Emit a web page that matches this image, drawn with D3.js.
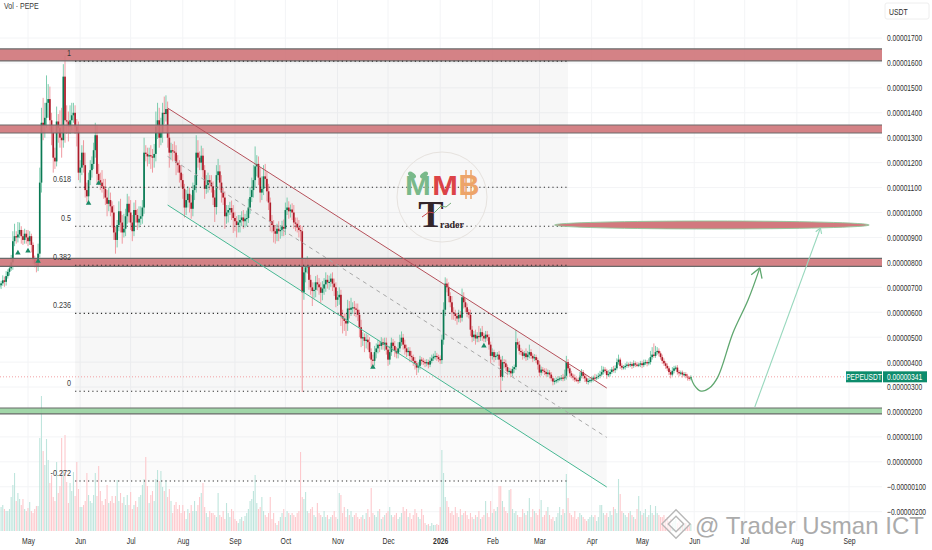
<!DOCTYPE html>
<html>
<head>
<meta charset="utf-8">
<script src="https://cdn.jsdelivr.net/npm/d3@7"></script>
<style>
html, body { margin: 0; padding: 0; background: #fff; }
svg { display: block; }
text { font-family: "Liberation Sans", sans-serif; }
</style>
</head>
<body>
<svg id="chart" width="932" height="550"></svg>
<script>
// prices are in units of 0.00000001 USDT, one daily candle per entry from 14 Apr 2025
const firstDay = "2025-04-14";
const firstOpen = 700;
const closes = [
  708,716,728,722,745,762,776,800,885,905,
  900,912,930,905,890,915,900,885,905,870,
  812,795,785,835,1120,1360,1350,1380,1440,1455,
  1370,1320,1220,1205,1365,1340,1300,1290,1545,1370,
  1365,1345,1370,1390,1400,1345,1325,1160,1180,1240,
  1190,1090,1065,1130,1170,1195,1250,1310,1155,1130,
  1120,1105,1095,1060,1035,1050,1025,1000,920,890,
  950,1005,960,920,935,985,1035,1000,960,925,
  1010,990,960,975,985,1020,1240,1235,1225,1230,
  1225,1220,1235,1345,1370,1300,1320,1400,1395,1415,
  1300,1240,1250,1245,1240,1200,1190,1160,1130,1095,
  1020,1050,1075,1040,1015,1090,1110,1240,1220,1200,
  1228,1170,1095,1110,1130,1120,1105,1060,1022,1150,
  1165,1120,1080,1060,985,1000,1010,1018,1000,978,
  965,950,960,970,980,965,975,978,1020,1062,
  1090,1130,1185,1195,1140,1080,1095,1145,1135,1085,
  1040,965,950,925,915,935,925,930,942,935,
  1010,1020,1005,1012,1000,960,955,940,930,925,
  680,760,780,785,730,700,685,690,720,712,
  700,678,695,712,730,720,722,735,715,700,
  650,660,670,585,575,565,555,615,610,618,
  620,615,610,590,540,495,500,485,490,480,
  440,410,405,440,455,470,465,480,470,478,
  450,410,440,478,465,445,435,455,480,498,
  470,455,440,445,425,420,405,395,378,385,
  410,405,400,395,400,390,405,415,422,425,
  420,412,408,490,610,715,700,665,640,600,
  595,585,575,590,578,660,640,620,600,590,
  530,500,510,495,505,500,520,505,495,510,
  500,470,425,440,420,425,430,410,340,400,
  395,380,362,365,355,372,380,480,470,445,
  440,425,435,420,430,440,425,415,420,408,
  390,358,370,365,360,352,358,350,335,322,
  325,328,332,335,338,335,345,400,375,355,
  345,338,330,328,325,345,360,345,335,322,
  325,328,330,338,335,340,345,350,360,370,
  365,348,352,360,370,368,375,400,410,385,
  378,380,385,390,388,392,385,395,390,388,
  390,395,388,398,400,395,400,420,430,425,
  440,445,435,420,405,395,385,375,360,350,
  365,375,378,360,355,358,350,352,345,338,
  335,341
];
const upperWicks = [
  15,10,20,15,20,10,15,30,40,50,
  20,50,30,15,25,20,15,30,20,10,
  10,15,20,40,60,60,100,60,110,60,
  50,30,30,40,60,30,70,120,50,85,
  60,40,60,50,40,30,30,40,30,30,
  50,50,30,30,40,30,30,50,40,40,
  30,50,30,40,30,50,30,20,30,25,
  20,40,50,30,60,30,40,30,50,30,
  30,40,25,50,40,30,60,30,25,30,
  40,30,40,60,70,50,60,40,65,55,
  30,20,30,25,40,30,30,20,30,25,
  20,40,30,25,30,30,40,70,50,25,
  40,30,20,40,30,20,30,20,30,40,
  50,25,30,20,25,30,20,25,30,30,
  25,20,30,20,25,30,20,30,35,40,
  50,60,80,35,30,40,50,45,50,30,
  30,20,25,20,25,20,30,20,25,30,
  30,40,25,20,25,30,20,25,30,20,
  20,40,35,40,25,20,20,30,25,30,
  25,20,30,25,30,20,25,20,25,20,
  20,25,30,20,25,20,30,35,30,40,
  20,25,20,25,20,30,20,15,25,20,
  20,15,20,25,20,20,15,20,15,20,
  20,15,25,20,15,20,15,25,30,25,
  15,20,15,15,15,20,10,15,10,15,
  15,10,12,10,12,10,15,15,12,20,
  12,10,15,20,30,25,20,20,15,25,
  20,15,12,20,15,35,20,15,15,12,
  20,15,15,20,15,40,15,25,12,15,
  15,12,12,15,10,15,10,15,12,25,
  12,15,10,12,10,12,10,50,15,15,
  12,10,10,20,15,30,12,10,12,10,
  10,15,12,10,10,15,12,10,10,8,
  10,10,12,8,10,15,25,25,12,10,
  10,8,12,8,10,15,12,8,10,8,
  10,8,12,8,15,10,12,15,25,12,
  10,8,15,12,10,15,12,15,20,8,
  10,8,10,12,8,10,8,12,8,10,
  8,10,10,12,10,8,15,25,30,45,
  25,15,10,8,10,10,8,10,8,8,
  15,10,8,10,8,8,8,8,8,8,
  6,6
];
const lowerWicks = [
  10,15,10,20,15,10,15,10,30,20,
  25,20,15,30,20,15,25,20,15,30,
  20,15,25,20,15,40,60,50,40,60,
  40,50,60,30,20,60,40,70,30,90,
  50,60,30,40,30,30,60,30,40,30,
  30,30,25,30,20,30,20,30,40,20,
  30,25,40,30,50,30,40,60,30,55,
  30,25,40,45,20,30,30,40,30,40,
  20,30,30,20,25,30,25,30,40,30,
  50,60,40,30,50,40,30,40,40,30,
  40,60,30,40,30,50,30,40,30,40,
  40,30,30,40,40,30,40,30,40,30,
  30,30,40,20,30,30,25,30,60,30,
  20,30,40,30,50,30,40,20,30,60,
  40,50,30,40,25,30,25,30,20,25,
  20,30,30,40,30,40,30,25,30,40,
  30,40,30,45,40,30,40,30,25,30,
  25,20,30,25,30,25,30,20,30,40,
  400,30,40,25,40,30,60,30,30,25,
  30,40,30,25,30,25,30,20,30,35,
  30,25,30,40,60,40,50,30,35,25,
  25,30,30,25,40,35,30,45,30,30,
  25,30,30,20,25,20,25,15,20,25,
  20,25,20,15,20,25,20,20,15,15,
  20,25,20,15,25,20,20,25,30,20,
  15,15,12,15,12,15,10,10,10,12,
  15,12,15,15,20,25,20,25,20,30,
  25,20,25,15,20,15,25,20,20,15,
  25,20,15,25,15,20,15,20,15,15,
  15,20,30,15,20,12,15,25,60,15,
  20,15,15,12,15,12,15,12,15,15,
  12,15,10,15,12,15,12,15,10,12,
  20,15,12,10,12,10,12,15,12,15,
  12,10,10,8,10,12,10,15,12,15,
  10,12,10,8,12,8,10,12,15,10,
  12,8,10,8,10,8,8,10,8,10,
  10,15,8,10,8,10,12,8,10,12,
  10,8,10,8,10,8,12,8,10,8,
  8,10,12,8,10,12,8,10,10,8,
  8,10,12,10,12,10,12,10,12,15,
  8,10,8,10,12,8,12,8,10,12,
  10,8
];
const volumes = [
  33,24,26,22,20,20,22,34,46,58,
  30,38,32,26,32,22,20,23,29,20,
  18,22,25,25,93,135,80,66,92,71,
  48,56,34,30,69,38,45,93,60,96,
  49,28,48,40,59,35,69,42,24,24,
  26,30,58,36,30,28,36,58,35,65,
  40,30,26,32,46,28,30,35,28,35,
  51,30,38,28,34,26,36,26,39,22,
  26,30,24,34,36,46,52,74,45,28,
  36,40,30,52,61,50,60,44,40,51,
  34,42,30,18,26,29,22,26,18,26,
  20,12,22,18,26,20,30,20,26,34,
  38,48,24,18,14,20,18,18,16,14,
  38,16,14,20,12,28,18,14,22,20,
  12,10,8,12,14,10,15,18,22,30,
  32,40,56,28,22,24,34,20,16,14,
  18,34,12,18,8,6,10,14,18,22,
  14,20,18,16,18,16,14,18,20,79,
  34,32,39,20,18,22,24,16,14,28,
  18,16,14,20,14,16,12,14,16,20,
  14,12,38,36,18,24,14,22,16,20,
  14,16,18,14,12,14,16,12,18,22,
  14,43,18,16,14,20,22,12,14,16,
  18,20,24,16,14,16,18,12,14,18,
  24,20,22,14,18,12,16,22,18,14,
  12,22,16,8,6,7,5,8,6,6,
  7,6,24,81,58,34,30,24,18,20,
  16,24,18,14,22,16,18,20,16,12,
  18,14,12,16,14,20,12,14,16,30,
  18,14,30,18,22,20,24,45,45,30,
  24,20,18,41,42,22,18,20,16,14,
  14,22,18,16,20,33,14,22,20,18,
  16,22,31,14,16,20,24,16,12,14,
  10,14,18,24,16,22,18,57,33,18,
  16,14,20,12,14,18,16,14,12,10,
  12,14,16,14,16,10,14,26,26,18,
  16,18,14,20,16,24,22,18,52,37,
  20,18,16,14,18,20,16,14,12,22,
  35,20,16,18,22,14,16,26,18,16,
  25,18,16,14,14,16,12,14,10,12,
  8,10,12,8,10,7,9,6,8,6,
  5,7
];

const priceTicks = [1700,1600,1500,1400,1300,1200,1100,1000,900,800,700,600,500,400,300,200,100,0,-100,-200];
const monthTicks = ["2025-05-01","2025-06-01","2025-07-01","2025-08-01","2025-09-01","2025-10-01","2025-11-01","2025-12-01","2026-01-01","2026-02-01","2026-03-01","2026-04-01","2026-05-01","2026-06-01","2026-07-01","2026-08-01","2026-09-01"];
const monthLabels = ["May","Jun","Jul","Aug","Sep","Oct","Nov","Dec","2026","Feb","Mar","Apr","May","Jun","Jul","Aug","Sep"];

const fibLevels = [1, 0.618, 0.5, 0.382, 0.236, 0, -0.272];
const fibLabels = ["1", "0.618", "0.5", "0.382", "0.236", "0", "-0.272"];
const fibDates = ["2025-05-29", "2026-03-18"];
const fibPrices = [283, 1607];

const redBands = [[1608,1656],[1319,1351],[784,816]];
const greenBands = [[192,216]];

const channelDates = ["2025-07-23", "2026-04-10"];
const channelTop = [1419, 296];
const channelMid = [1225, 98];
const channelBottom = [1030, -101];

const targetDates = ["2026-03-10", "2026-09-13"];
const targetPrice = 950;

const pathDates = ["2026-05-30","2026-06-01","2026-06-05","2026-06-10","2026-06-15","2026-06-24","2026-07-03","2026-07-10"];
const pathPrices = [340,308,284,296,340,517,649,778];
const arrowDates = ["2026-07-07","2026-08-15"];
const arrowPrices = [220,938];

const triangleDates = ["2025-04-25","2025-05-01","2025-05-07","2025-06-06","2025-06-12","2025-11-22","2026-01-27"];
const trianglePrices = [838,846,805,1038,1118,380,465];

const lastPrice = 341;

const paneRight = 882;
const baseline = 531;
const parseDay = d3.utcParse("%Y-%m-%d");
const svg = d3.select("#chart");

const xScale = d3.scaleUtc()
  .domain([parseDay("2025-05-01"), parseDay("2026-09-01")])
  .range([28, 849]);
const yScale = d3.scaleLinear().domain([-200, 1700]).range([511.7, 38]);
const volScale = d3.scaleLinear().domain([0, 140]).range([baseline, baseline - 140]);
const xDay = s => xScale(parseDay(s));

// chart labels are set in a condensed face, squeeze the glyphs to that width
function squeeze(sel, k) {
  sel.each(function() {
    this.setAttribute("textLength", this.getComputedTextLength() * k);
    this.setAttribute("lengthAdjust", "spacingAndGlyphs");
  });
}

const candles = closes.map((c, i) => {
  const o = i ? closes[i - 1] : firstOpen;
  return {
    date: d3.utcDay.offset(parseDay(firstDay), i),
    open: o,
    close: c,
    high: Math.max(o, c) + upperWicks[i],
    low: Math.min(o, c) - lowerWicks[i],
    volume: volumes[i]
  };
});

// clip everything in the main pane at the price scale
svg.append("clipPath").attr("id", "pane").append("rect")
  .attr("x", 0).attr("y", 0).attr("width", paneRight).attr("height", 531);
const pane = svg.append("g").attr("clip-path", "url(#pane)");

// grid
pane.append("g").selectAll("line").data(priceTicks).join("line")
  .attr("x1", 0).attr("x2", paneRight)
  .attr("y1", d => yScale(d)).attr("y2", d => yScale(d))
  .attr("stroke", "#f3f4f6");
pane.append("g").selectAll("line").data(monthTicks).join("line")
  .attr("x1", d => xDay(d)).attr("x2", d => xDay(d))
  .attr("y1", 0).attr("y2", baseline)
  .attr("stroke", "#f3f4f6");

// fib background
const fibY = lvl => yScale(fibPrices[0] + lvl * (fibPrices[1] - fibPrices[0]));
pane.append("rect")
  .attr("x", xDay(fibDates[0])).attr("width", xDay(fibDates[1]) - xDay(fibDates[0]))
  .attr("y", fibY(1)).attr("height", fibY(0) - fibY(1))
  .attr("fill", "#000").attr("opacity", 0.032);
pane.append("rect")
  .attr("x", xDay(fibDates[0])).attr("width", xDay(fibDates[1]) - xDay(fibDates[0]))
  .attr("y", fibY(0)).attr("height", fibY(-0.272) - fibY(0))
  .attr("fill", "#000").attr("opacity", 0.014);

// channel fill
const channelX = channelDates.map(xDay);
pane.append("path")
  .attr("d", d3.line()([
    [channelX[0], yScale(channelTop[0])], [channelX[1], yScale(channelTop[1])],
    [channelX[1], yScale(channelBottom[1])], [channelX[0], yScale(channelBottom[0])]
  ]) + "Z")
  .attr("fill", "#000").attr("opacity", 0.028);

// volume
pane.append("g").selectAll("rect").data(candles).join("rect")
  .attr("x", d => xScale(d.date) - 0.55)
  .attr("width", 1.1)
  .attr("y", d => volScale(d.volume))
  .attr("height", d => baseline - volScale(d.volume))
  .attr("fill", d => d.close >= d.open ? "#bfe5dd" : "#fdc9cd");

// candles
const candleG = pane.append("g");
candleG.selectAll("line").data(candles).join("line")
  .attr("x1", d => xScale(d.date)).attr("x2", d => xScale(d.date))
  .attr("y1", d => yScale(d.high)).attr("y2", d => yScale(d.low))
  .attr("stroke", d => d.close >= d.open ? "#6fc7a6" : "#ee8f96")
  .attr("stroke-width", 0.9);
candleG.selectAll("rect").data(candles).join("rect")
  .attr("x", d => xScale(d.date) - 0.85)
  .attr("width", 1.7)
  .attr("y", d => yScale(Math.max(d.open, d.close)))
  .attr("height", d => Math.max(1.2, Math.abs(yScale(d.open) - yScale(d.close))))
  .attr("fill", d => d.close >= d.open ? "#0a7a54" : "#ad1c2a");

// last price line
pane.append("line")
  .attr("x1", 0).attr("x2", 846)
  .attr("y1", yScale(lastPrice)).attr("y2", yScale(lastPrice))
  .attr("stroke", "#f2a0a4").attr("stroke-dasharray", "1,2");

// horizontal zones
function drawBands(bands, fill) {
  bands.forEach(b => {
    pane.append("rect")
      .attr("x", 0).attr("width", paneRight)
      .attr("y", yScale(b[1])).attr("height", yScale(b[0]) - yScale(b[1]))
      .attr("fill", fill).attr("fill-opacity", 0.9);
    b.forEach(p => {
      pane.append("line")
        .attr("x1", 0).attr("x2", paneRight)
        .attr("y1", yScale(p)).attr("y2", yScale(p))
        .attr("stroke", "#6a6a6a").attr("stroke-width", 1.2);
    });
  });
}
drawBands(redBands, "#cf7479");
drawBands(greenBands, "#97d29e");

// fib lines and labels
svg.append("g").selectAll("line").data(fibLevels).join("line")
  .attr("x1", xDay(fibDates[0])).attr("x2", xDay(fibDates[1]))
  .attr("y1", d => fibY(d)).attr("y2", d => fibY(d))
  .attr("stroke", "#2b2b2b").attr("stroke-width", 1.1)
  .attr("stroke-dasharray", "1.2,3.1");
svg.append("g").selectAll("text").data(fibLevels).join("text")
  .attr("x", 71).attr("y", d => fibY(d) - 5.5)
  .attr("text-anchor", "end")
  .attr("font-size", 9.5).attr("fill", "#3a3a3a")
  .text((d, i) => fibLabels[i])
  .call(squeeze, 0.76);

// channel lines
function channelLine(prices, color, dash) {
  svg.append("line")
    .attr("x1", channelX[0]).attr("x2", channelX[1])
    .attr("y1", yScale(prices[0])).attr("y2", yScale(prices[1]))
    .attr("stroke", color).attr("stroke-width", 1)
    .attr("stroke-dasharray", dash);
}
channelLine(channelTop, "#b5505a", null);
channelLine(channelMid, "#a8a8a8", "4,4");
channelLine(channelBottom, "#47b893", null);

// triangles
svg.append("g").selectAll("path").data(triangleDates).join("path")
  .attr("d", d3.symbol(d3.symbolTriangle, 13))
  .attr("transform", (d, i) => `translate(${xDay(d)},${yScale(trianglePrices[i])})`)
  .attr("fill", "#1a8a66");

// target ellipse
const targetX = targetDates.map(xDay);
svg.append("ellipse")
  .attr("cx", (targetX[0] + targetX[1]) / 2).attr("cy", yScale(targetPrice))
  .attr("rx", (targetX[1] - targetX[0]) / 2).attr("ry", 4)
  .attr("fill", "#d2797e").attr("stroke", "#8ec79a").attr("stroke-width", 0.9);

// projected move
function arrowHead(x0, y0, x1, y1, size, color, width) {
  const a = Math.atan2(y1 - y0, x1 - x0);
  [-0.55, 0.55].forEach(t => {
    svg.append("line")
      .attr("x1", x1).attr("y1", y1)
      .attr("x2", x1 - size * Math.cos(a + t)).attr("y2", y1 - size * Math.sin(a + t))
      .attr("stroke", color).attr("stroke-width", width);
  });
}
const pathPts = pathDates.map((d, i) => [xDay(d), yScale(pathPrices[i])]);
svg.append("path")
  .attr("d", d3.line().curve(d3.curveCatmullRom)(pathPts))
  .attr("fill", "none").attr("stroke", "#5fa76f").attr("stroke-width", 1.3);
arrowHead(pathPts[6][0], pathPts[6][1], pathPts[7][0], pathPts[7][1], 11, "#5fa76f", 1.3);

const arrowPts = arrowDates.map((d, i) => [xDay(d), yScale(arrowPrices[i])]);
svg.append("line")
  .attr("x1", arrowPts[0][0]).attr("y1", arrowPts[0][1])
  .attr("x2", arrowPts[1][0]).attr("y2", arrowPts[1][1])
  .attr("stroke", "#98d8bd").attr("stroke-width", 1.1);
arrowHead(arrowPts[0][0], arrowPts[0][1], arrowPts[1][0], arrowPts[1][1], 6, "#98d8bd", 1.1);

// logo in the middle of the chart
const logo = svg.append("g");
logo.append("circle").attr("cx", 442).attr("cy", 197).attr("r", 45)
  .attr("fill", "none").attr("stroke", "#e6e2de").attr("stroke-width", 1);
logo.append("text").attr("x", 418).attr("y", 195).attr("text-anchor", "middle")
  .attr("font-size", 27).attr("font-weight", "bold").attr("fill", "#79b98a").text("M")
  .call(squeeze, 1.15);
logo.append("ellipse").attr("cx", 412).attr("cy", 175).attr("rx", 4.5).attr("ry", 2.5)
  .attr("transform", "rotate(35 412 175)").attr("fill", "#79b98a");
logo.append("ellipse").attr("cx", 424).attr("cy", 175).attr("rx", 4.5).attr("ry", 2.5)
  .attr("transform", "rotate(-35 424 175)").attr("fill", "#79b98a");
logo.append("text").attr("x", 445).attr("y", 195).attr("text-anchor", "middle")
  .attr("font-size", 28).attr("font-weight", "bold").attr("fill", "#dc4347").text("M")
  .call(squeeze, 1.1);
logo.append("text").attr("x", 469).attr("y", 195).attr("text-anchor", "middle")
  .attr("font-size", 29).attr("font-weight", "bold").attr("fill", "#eda469").text("B");
[466, 471].forEach(x => {
  logo.append("line").attr("x1", x).attr("x2", x).attr("y1", 170).attr("y2", 199)
    .attr("stroke", "#eda469").attr("stroke-width", 1.5);
});
logo.append("text").attr("x", 431).attr("y", 227).attr("text-anchor", "middle")
  .attr("font-size", 38).attr("font-weight", "bold").attr("fill", "#33252a")
  .style("font-family", "Liberation Serif").text("T");
logo.append("text").attr("x", 440).attr("y", 228)
  .attr("font-size", 10).attr("font-weight", "bold").attr("fill", "#33252a")
  .style("font-family", "Liberation Serif").text("rader");
logo.append("path").attr("d", d3.line()([[422,217],[429,212],[434,213]]))
  .attr("fill", "none").attr("stroke", "#c8464c").attr("stroke-width", 1);
logo.append("path").attr("d", d3.line()([[434,213],[441,206],[446,207],[451,203]]))
  .attr("fill", "none").attr("stroke", "#78ae7c").attr("stroke-width", 1);

// price axis
const yAxis = d3.axisRight(yScale)
  .tickValues(priceTicks)
  .tickSize(0)
  .tickFormat(d => (d < 0 ? "\u2212" : "") + (Math.abs(d) / 1e8).toFixed(8));
svg.append("g")
  .attr("transform", `translate(${paneRight + 5},0)`)
  .call(yAxis)
  .call(g => g.select(".domain").remove())
  .call(g => g.selectAll("text").attr("x", 0).attr("font-size", 9).attr("fill", "#2e2e2e").call(squeeze, 0.74));

// time axis
const xAxis = d3.axisBottom(xScale)
  .tickValues(monthTicks.map(parseDay))
  .tickSize(0)
  .tickFormat((d, i) => monthLabels[i]);
svg.append("g")
  .attr("transform", `translate(0,535)`)
  .call(xAxis)
  .call(g => g.select(".domain").remove())
  .call(g => g.selectAll("text")
    .attr("y", 3).attr("font-size", 9).attr("fill", "#2e2e2e")
    .attr("font-weight", (d, i) => monthLabels[i] === "2026" ? "bold" : null)
    .call(squeeze, 0.76));

// last price tags
const tagY = yScale(lastPrice);
svg.append("rect").attr("x", 846).attr("y", tagY - 5.5).attr("width", 36).attr("height", 11)
  .attr("fill", "#0d8c6c");
svg.append("text").attr("x", 864).attr("y", tagY + 3).attr("text-anchor", "middle")
  .attr("font-size", 8.8).attr("fill", "#fff").text("PEPEUSDT").call(squeeze, 0.75);
svg.append("rect").attr("x", 883).attr("y", tagY - 5.5).attr("width", 44).attr("height", 11)
  .attr("fill", "#0d8c6c");
svg.append("text").attr("x", 887).attr("y", tagY + 3)
  .attr("font-size", 9).attr("fill", "#fff").text("0.00000341").call(squeeze, 0.74);

// header bits
svg.append("text").attr("x", 4).attr("y", 9)
  .attr("font-size", 9).attr("fill", "#3a3a3a").text("Vol \u00b7 PEPE").call(squeeze, 0.78);
svg.append("rect").attr("x", 885).attr("y", 3).attr("width", 44).attr("height", 16).attr("rx", 2)
  .attr("fill", "#fff").attr("stroke", "#eeeeee");
svg.append("text").attr("x", 889).attr("y", 14.5)
  .attr("font-size", 9).attr("fill", "#2e2e2e").text("USDT").call(squeeze, 0.76);

// watermark
const mark = svg.append("g");
[[676,524,20],[676,524,11]].forEach(s => {
  mark.append("rect")
    .attr("x", s[0] - s[2] / 2).attr("y", s[1] - s[2] / 2)
    .attr("width", s[2]).attr("height", s[2])
    .attr("transform", `rotate(45 ${s[0]} ${s[1]})`)
    .attr("fill", "#fff").attr("fill-opacity", 0.55)
    .attr("stroke", "#b8b8b8").attr("stroke-width", 1.4);
});
mark.append("text").attr("x", 695).attr("y", 534)
  .attr("font-size", 24).attr("fill", "#ababab")
  .attr("stroke", "#fff").attr("stroke-width", 0.5).attr("paint-order", "stroke")
  .attr("textLength", 229).attr("lengthAdjust", "spacing")
  .text("@ Trader Usman ICT");
</script>
</body>
</html>
